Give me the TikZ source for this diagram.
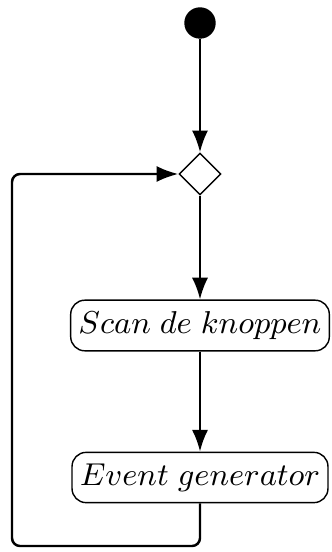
\documentclass[tikz,border=0pt]{standalone}
\usepackage{tikz}
\usetikzlibrary{shapes.geometric,arrows.meta}
\tikzset{% change default arrow tips
    >={Latex[length=6.2pt,width=4.6pt]}
}
\begin{document}
\begin{tikzpicture}[
    flow/.style={->, line width=0.7pt},
    startstate/.style={circle, fill=black, draw=black, minimum size=0.30cm, inner sep=0pt},
    choice/.style={diamond, draw, thin, minimum size=0.42cm, inner sep=0pt},
    activity/.style={draw, thin, rounded corners=4pt, inner xsep=2.2pt, inner ysep=3.2pt, font=\fontsize{9.5pt}{11pt}\selectfont}
    ]
    \useasboundingbox (0,0) rectangle (3.31,-5.52);

    % states
    \node[startstate] (start) at (2.00,-0.23) {};
    \node[choice] (merge) at (2.00,-1.74) {};
    \node[activity] (scan) at (2.00,-3.255) {$Scan\;de\;knoppen$};
    \node[activity] (event) at (2.00,-4.775) {$Event\;generator$};

    % flows
    \draw[flow] (start) -- (merge);
    \draw[flow] (merge) -- (scan);
    \draw[flow] (scan) -- (event);
    \draw[flow, rounded corners=0.08cm] (event.south) -- (2.00,-5.46) -- (0.12,-5.46) -- (0.12,-1.74) -- (merge.west);
\end{tikzpicture}
\end{document}
